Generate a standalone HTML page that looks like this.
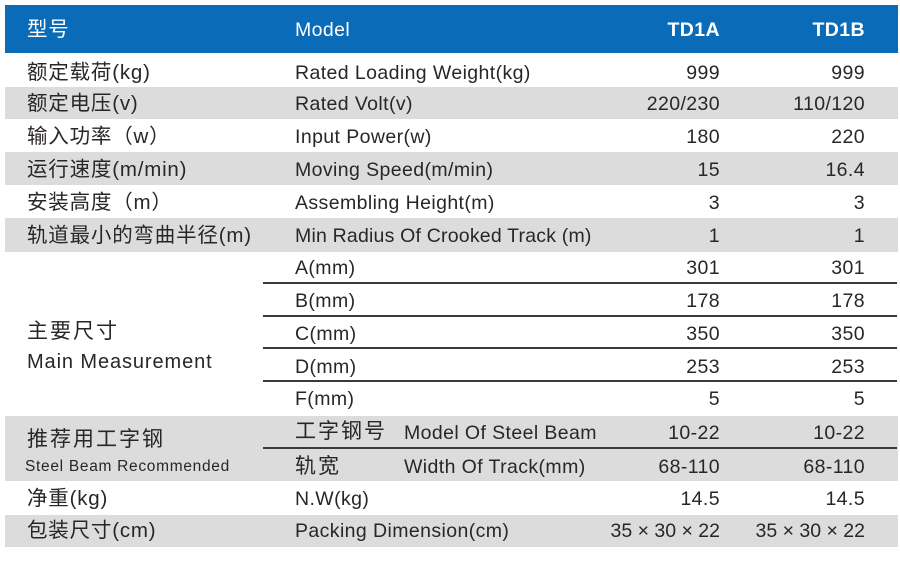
<!DOCTYPE html>
<html><head><meta charset="utf-8"><style>
*{margin:0;padding:0;box-sizing:border-box}
body{width:900px;height:565px;background:#fff;position:relative;overflow:hidden;font-family:"Liberation Sans","Noto Sans CJK SC",sans-serif;color:#2a2627}
.b{position:absolute}
.g{position:absolute;background:#dcdcdc}
.t{position:absolute;font-size:19.5px;white-space:nowrap;line-height:24px;letter-spacing:0.4px}
.c{font-size:20.5px;letter-spacing:0.8px}
.r{text-align:right}
.ln{position:absolute;height:2px;background:#3a3a3a;left:263px;width:634px}
</style></head><body>
<div class="b" style="left:5px;top:5px;width:893px;height:48px;background:#0a6cb8"></div>
<div class="t c" style="left:27px;top:18px;color:#fff">型号</div>
<div class="t" style="left:295px;top:18px;color:#fff">Model</div>
<div class="t r" style="right:180px;top:18px;color:#fff;font-weight:bold">TD1A</div>
<div class="t r" style="right:35px;top:18px;color:#fff;font-weight:bold">TD1B</div>

<div class="g" style="left:5px;top:87px;width:893px;height:32px"></div>
<div class="g" style="left:5px;top:152px;width:893px;height:33px"></div>
<div class="g" style="left:5px;top:218px;width:893px;height:34px"></div>
<div class="g" style="left:5px;top:416px;width:893px;height:65px"></div>
<div class="g" style="left:5px;top:515px;width:893px;height:32px"></div>

<div class="ln" style="top:282px"></div>
<div class="ln" style="top:315px"></div>
<div class="ln" style="top:347px"></div>
<div class="ln" style="top:380px"></div>
<div class="ln" style="top:447px"></div>

<div class="t c" style="left:27px;top:61px">额定载荷(kg)</div>
<div class="t" style="left:295px;top:61px">Rated Loading Weight(kg)</div>
<div class="t r" style="right:180px;top:61px">999</div>
<div class="t r" style="right:35px;top:61px">999</div>

<div class="t c" style="left:27px;top:92px">额定电压(v)</div>
<div class="t" style="left:295px;top:92px">Rated Volt(v)</div>
<div class="t r" style="right:180px;top:92px">220/230</div>
<div class="t r" style="right:35px;top:92px">110/120</div>

<div class="t c" style="left:27px;top:125px">输入功率（w）</div>
<div class="t" style="left:295px;top:125px">Input Power(w)</div>
<div class="t r" style="right:180px;top:125px">180</div>
<div class="t r" style="right:35px;top:125px">220</div>

<div class="t c" style="left:27px;top:158px">运行速度(m/min)</div>
<div class="t" style="left:295px;top:158px">Moving Speed(m/min)</div>
<div class="t r" style="right:180px;top:158px">15</div>
<div class="t r" style="right:35px;top:158px">16.4</div>

<div class="t c" style="left:27px;top:191px">安装高度（m）</div>
<div class="t" style="left:295px;top:191px">Assembling Height(m)</div>
<div class="t r" style="right:180px;top:191px">3</div>
<div class="t r" style="right:35px;top:191px">3</div>

<div class="t c" style="left:27px;top:224px">轨道最小的弯曲半径(m)</div>
<div class="t" style="left:295px;top:224px;letter-spacing:0.2px">Min Radius Of Crooked Track (m)</div>
<div class="t r" style="right:180px;top:224px">1</div>
<div class="t r" style="right:35px;top:224px">1</div>

<div class="t c" style="left:27px;top:320px;font-size:21px;letter-spacing:2px">主要尺寸</div>
<div class="t" style="left:27px;top:350px;font-size:20px;letter-spacing:0.9px">Main Measurement</div>
<div class="t" style="left:295px;top:256px">A(mm)</div>
<div class="t r" style="right:180px;top:256px">301</div>
<div class="t r" style="right:35px;top:256px">301</div>
<div class="t" style="left:295px;top:289px">B(mm)</div>
<div class="t r" style="right:180px;top:289px">178</div>
<div class="t r" style="right:35px;top:289px">178</div>
<div class="t" style="left:295px;top:322px">C(mm)</div>
<div class="t r" style="right:180px;top:322px">350</div>
<div class="t r" style="right:35px;top:322px">350</div>
<div class="t" style="left:295px;top:355px">D(mm)</div>
<div class="t r" style="right:180px;top:355px">253</div>
<div class="t r" style="right:35px;top:355px">253</div>
<div class="t" style="left:295px;top:387px">F(mm)</div>
<div class="t r" style="right:180px;top:387px">5</div>
<div class="t r" style="right:35px;top:387px">5</div>

<div class="t c" style="left:27px;top:428px;font-size:21px;letter-spacing:2px">推荐用工字钢</div>
<div class="t" style="left:25px;top:455px;font-size:15.5px;letter-spacing:0.7px">Steel Beam Recommended</div>
<div class="t c" style="left:295px;top:420px;font-size:21px;letter-spacing:2px">工字钢号</div>
<div class="t" style="left:404px;top:421px">Model Of Steel Beam</div>
<div class="t r" style="right:180px;top:421px">10-22</div>
<div class="t r" style="right:35px;top:421px">10-22</div>
<div class="t c" style="left:295px;top:455px;font-size:21px;letter-spacing:2px">轨宽</div>
<div class="t" style="left:404px;top:455px">Width Of Track(mm)</div>
<div class="t r" style="right:180px;top:455px">68-110</div>
<div class="t r" style="right:35px;top:455px">68-110</div>

<div class="t c" style="left:27px;top:487px">净重(kg)</div>
<div class="t" style="left:295px;top:487px">N.W(kg)</div>
<div class="t r" style="right:180px;top:487px">14.5</div>
<div class="t r" style="right:35px;top:487px">14.5</div>

<div class="t c" style="left:27px;top:519px">包装尺寸(cm)</div>
<div class="t" style="left:295px;top:519px">Packing Dimension(cm)</div>
<div class="t r" style="right:180px;top:519px;letter-spacing:0">35 × 30 × 22</div>
<div class="t r" style="right:35px;top:519px;letter-spacing:0">35 × 30 × 22</div>
</body></html>
